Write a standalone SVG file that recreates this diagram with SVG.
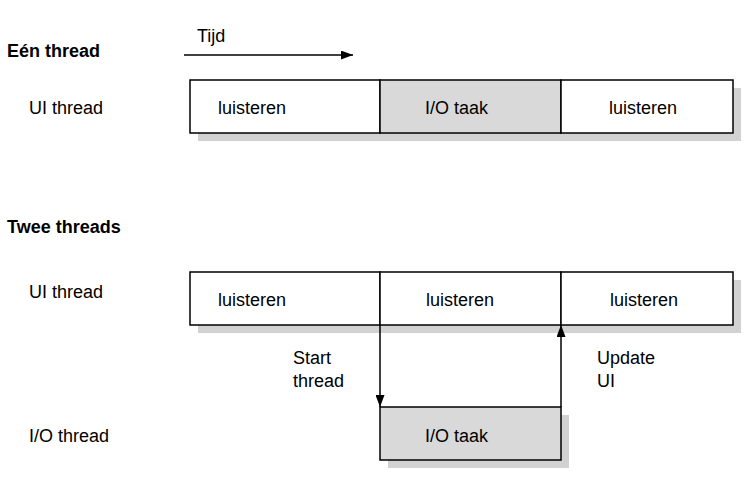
<svg xmlns="http://www.w3.org/2000/svg" width="749" height="479" viewBox="0 0 749 479">
<style>
text{font-family:"Liberation Sans",Arial,sans-serif;font-size:18px;fill:#000}
.b{font-weight:bold}
.box{fill:#fff;stroke:#000;stroke-width:1.5}
.g{fill:#d9d9d9}
.sh{fill:#d2d2d2}
.ln{stroke:#000;stroke-width:1.5;fill:none}
</style>
<defs>
<marker id="ah" viewBox="0 0 12 9" refX="12" refY="4.5" markerWidth="12" markerHeight="9" markerUnits="userSpaceOnUse" orient="auto">
<path d="M0,0L12,4.5L0,9z" fill="#000"/>
</marker>
</defs>
<rect width="749" height="479" fill="#fff"/>
<g id="labels">
<text class="b" x="7" y="57">Eén thread</text>
<text x="197" y="42">Tijd</text>
<text x="29" y="114">UI thread</text>
<text class="b" x="7" y="233">Twee threads</text>
<text x="29" y="298">UI thread</text>
<text x="29" y="442">I/O thread</text>
<text x="293" y="364">Start</text>
<text x="293" y="387">thread</text>
<text x="597" y="364">Update</text>
<text x="597" y="387">UI</text>
</g>
<g id="shadows">
<rect class="sh" x="198" y="88" width="543" height="53"/>
<rect class="sh" x="198" y="280" width="543" height="53"/>
<rect class="sh" x="388" y="415" width="181" height="53"/>
</g>
<g id="row1-a"><rect class="box" x="190" y="80" width="190" height="53"/><text x="218" y="114">luisteren</text></g>
<g id="row1-b"><rect class="box g" x="380" y="80" width="181" height="53"/><text x="425" y="114">I/O taak</text></g>
<g id="row1-c"><rect class="box" x="561" y="80" width="172" height="53"/><text x="609" y="114">luisteren</text></g>
<g id="row2-a"><rect class="box" x="190" y="272" width="190" height="53"/><text x="218" y="306">luisteren</text></g>
<g id="row2-b"><rect class="box" x="380" y="272" width="181" height="53"/><text x="426" y="306">luisteren</text></g>
<g id="row2-c"><rect class="box" x="561" y="272" width="172" height="53"/><text x="610" y="306">luisteren</text></g>
<g id="io"><rect class="box g" x="380" y="407" width="181" height="53"/><text x="425" y="442">I/O taak</text></g>
<g id="connectors">
<line class="ln" x1="184" y1="55" x2="353" y2="55" marker-end="url(#ah)"/>
<line class="ln" x1="380" y1="325" x2="380" y2="407" marker-end="url(#ah)"/>
<line class="ln" x1="561" y1="407" x2="561" y2="325" marker-end="url(#ah)"/>
</g>
</svg>
